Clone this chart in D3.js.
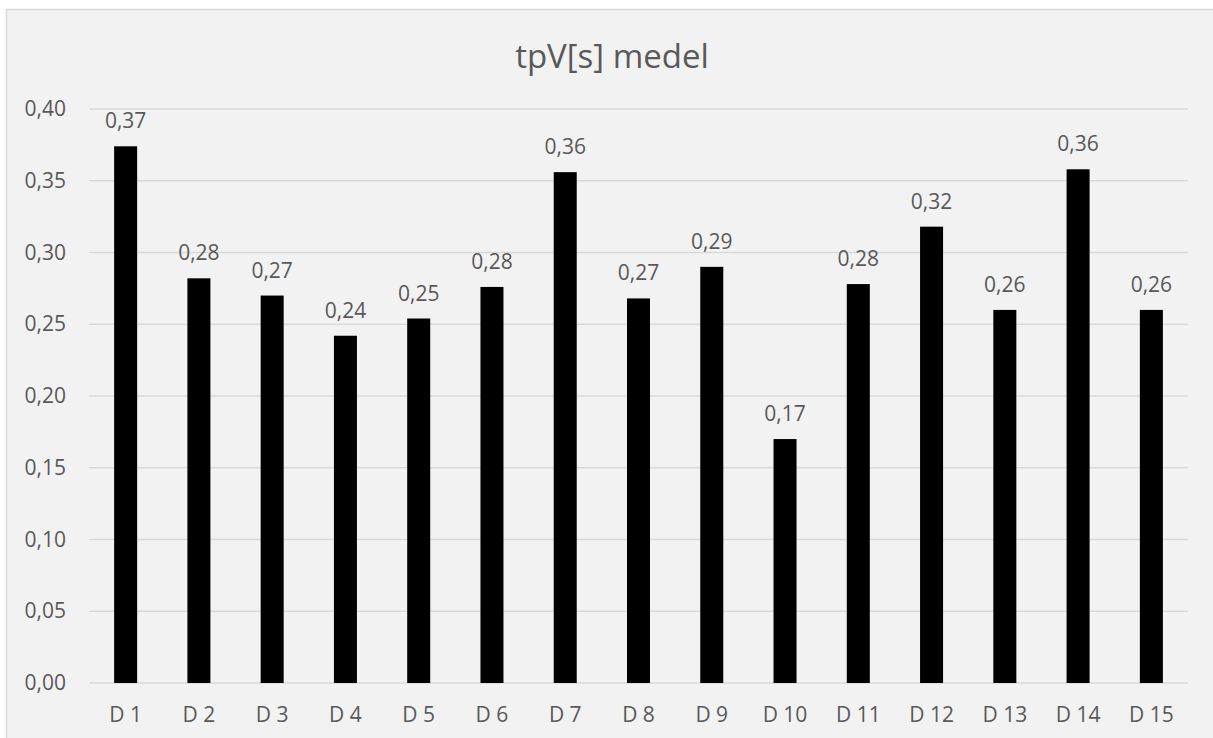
<!DOCTYPE html>
<html>
<head>
<meta charset="utf-8">
<script src="https://cdn.jsdelivr.net/npm/d3@7"></script>
<style>
  body { margin: 0; background: #ffffff; }
  text { font-family: "Open Sans", "Noto Sans", sans-serif; fill: #595959; }
</style>
</head>
<body>
<svg id="chart" width="1213" height="738"></svg>
<script>
// chart data
var categories = ["D 1", "D 2", "D 3", "D 4", "D 5", "D 6", "D 7", "D 8",
                  "D 9", "D 10", "D 11", "D 12", "D 13", "D 14", "D 15"];
var values = [0.374, 0.282, 0.270, 0.242, 0.254, 0.276, 0.356, 0.268,
              0.290, 0.170, 0.278, 0.318, 0.260, 0.358, 0.260];
var yTicks = [0, 0.05, 0.10, 0.15, 0.20, 0.25, 0.30, 0.35, 0.40];
var title = "tpV[s] medel";

var svg = d3.select("#chart");
var fmt = function(v) { return d3.format(".2f")(v).replace(".", ","); };

// chart frame (cut off at right and bottom like the screenshot)
svg.append("rect")
    .attr("x", 6.5).attr("y", 9.5)
    .attr("width", 1240).attr("height", 760)
    .attr("fill", "#f2f2f2")
    .attr("stroke", "#d9d9d9")
    .attr("stroke-width", 1.5);

var margin = {left: 89, right: 25, top: 109, bottom: 55};
var plotW = 1213 - margin.left - margin.right;
var plotH = 738 - margin.top - margin.bottom;

var x = d3.scaleBand()
    .domain(categories)
    .range([margin.left, margin.left + plotW])
    .paddingInner(0.686)
    .paddingOuter(0.343);

var y = d3.scaleLinear()
    .domain([0, 0.40])
    .range([margin.top + plotH, margin.top]);

// gridlines
svg.append("g").selectAll("line")
    .data(yTicks)
    .enter().append("line")
    .attr("x1", margin.left).attr("x2", margin.left + plotW)
    .attr("y1", function(d) { return y(d); })
    .attr("y2", function(d) { return y(d); })
    .attr("stroke", "#d9d9d9")
    .attr("stroke-width", 1.5);

// y axis labels
var yAxis = d3.axisLeft(y).tickValues(yTicks).tickFormat(fmt).tickSize(0).tickPadding(23);
var yg = svg.append("g")
    .attr("transform", "translate(" + margin.left + ",0)")
    .call(yAxis);
yg.select(".domain").remove();
yg.selectAll("text").attr("font-size", 21).style("fill", "#595959");

// x axis labels
var xAxis = d3.axisBottom(x).tickSize(0).tickPadding(24);
var xg = svg.append("g")
    .attr("transform", "translate(0," + (margin.top + plotH) + ")")
    .call(xAxis);
xg.select(".domain").remove();
xg.selectAll("text").attr("font-size", 21).style("fill", "#595959");

// bars
svg.append("g").selectAll("rect")
    .data(values)
    .enter().append("rect")
    .attr("x", function(d, i) { return x(categories[i]); })
    .attr("y", function(d) { return y(d); })
    .attr("width", x.bandwidth())
    .attr("height", function(d) { return y(0) - y(d); })
    .attr("fill", "#000000");

// value labels
svg.append("g").selectAll("text")
    .data(values)
    .enter().append("text")
    .attr("x", function(d, i) { return x(categories[i]) + x.bandwidth() / 2; })
    .attr("y", function(d) { return y(d) - 18; })
    .attr("text-anchor", "middle")
    .attr("font-size", 21)
    .text(function(d) { return fmt(d); });

// title
svg.append("text")
    .attr("x", 612)
    .attr("y", 68)
    .attr("text-anchor", "middle")
    .attr("font-size", 33)
    .text(title);
</script>
</body>
</html>
